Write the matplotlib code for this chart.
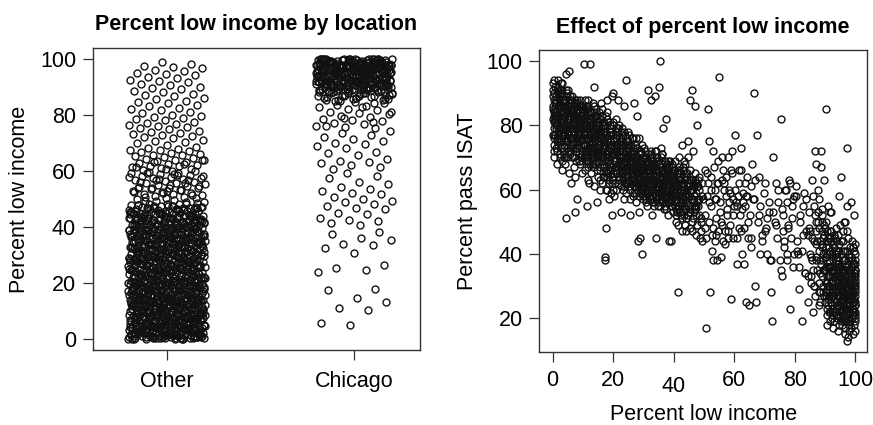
import matplotlib
matplotlib.use("Agg")
import matplotlib.pyplot as plt
import matplotlib.transforms as mtransforms
import numpy as np

plt.rcParams["font.family"] = ["Liberation Sans", "DejaVu Sans"]

# (percent low income, percent pass ISAT) per school, grouped by location
other_0_10 = [
    (0.2, 86), (0.5, 79), (0.1, 91), (0.8, 83), (0.3, 74), (0.6, 88), (0.0, 93), (0.4, 77), (0.9, 85), (0.7, 81),
    (1.2, 89), (1.5, 76), (1.1, 84), (1.8, 92), (1.3, 80), (1.6, 72), (1.0, 87), (1.4, 83), (1.9, 78), (1.7, 94),
    (2.1, 85), (2.4, 70), (2.2, 88), (2.8, 82), (2.5, 91), (2.0, 76), (2.7, 79), (2.3, 86), (2.9, 73), (2.6, 84),
    (3.1, 81), (3.4, 87), (3.2, 69), (3.8, 84), (3.5, 77), (3.0, 90), (3.7, 71), (3.3, 86), (3.9, 70), (3.6, 80),
    (4.1, 83), (4.4, 75), (4.2, 88), (4.8, 79), (4.5, 96), (4.0, 68), (4.7, 85), (4.3, 51), (4.9, 81), (4.6, 73),
    (5.1, 86), (5.4, 82), (5.2, 77), (5.8, 89), (5.5, 65), (5.0, 84), (5.7, 74), (5.3, 97), (5.9, 80), (5.6, 87),
    (6.1, 78), (6.4, 84), (6.2, 62), (6.8, 81), (6.5, 88), (6.0, 73), (6.7, 79), (6.3, 85), (6.9, 70), (6.6, 83),
    (7.1, 80), (7.4, 53), (7.2, 86), (7.8, 76), (7.5, 82), (7.0, 67), (7.7, 84), (7.3, 78), (7.9, 88), (7.6, 72),
    (8.1, 79), (8.4, 85), (8.2, 57), (8.8, 81), (8.5, 74), (8.0, 83), (8.7, 69), (8.3, 77), (8.9, 86), (8.6, 80),
    (9.1, 82), (9.4, 76), (9.2, 84), (9.8, 71), (9.5, 79), (9.0, 88), (9.7, 65), (9.3, 81), (9.9, 74), (9.6, 85),
    (0.3, 70), (0.6, 76), (1.4, 68), (2.2, 75), (3.1, 66), (0.9, 82), (1.7, 90), (2.6, 93), (3.8, 78), (4.3, 91),
    (5.2, 70), (6.1, 76), (7.3, 64), (8.4, 82), (9.2, 68), (0.1, 89), (0.5, 84), (1.1, 80), (1.9, 86), (2.4, 81),
]
other_10_20 = [
    (10.2, 81), (10.5, 99), (10.8, 74), (10.1, 84), (10.7, 77), (10.4, 70), (10.9, 86), (10.3, 79), (10.6, 66), (10.0, 82),
    (11.2, 55), (11.5, 78), (11.1, 83), (11.8, 72), (11.3, 80), (11.6, 69), (11.0, 85), (11.4, 76), (11.9, 81), (11.7, 63),
    (12.1, 79), (12.5, 99), (12.2, 74), (12.8, 82), (12.4, 68), (12.0, 77), (12.7, 84), (12.3, 71), (12.9, 80), (12.6, 65),
    (13.1, 76), (13.4, 82), (13.8, 92), (13.2, 70), (13.5, 78), (13.0, 73), (13.7, 84), (13.3, 67), (13.9, 79), (13.6, 61),
    (14.1, 75), (14.8, 56), (14.2, 80), (14.4, 71), (14.5, 83), (14.0, 68), (14.7, 77), (14.3, 73), (14.9, 64), (14.6, 81),
    (15.1, 72), (15.4, 78), (15.9, 87), (15.2, 69), (15.5, 82), (15.0, 75), (15.7, 66), (15.3, 80), (15.8, 71), (15.6, 60),
    (16.1, 77), (16.4, 70), (16.2, 83), (16.8, 73), (16.5, 67), (16.0, 79), (16.7, 75), (16.3, 62), (16.9, 81), (16.6, 68),
    (17.2, 38), (17.4, 39), (17.6, 48), (17.1, 74), (17.5, 71), (17.0, 78), (17.7, 66), (17.3, 80), (17.9, 69), (17.8, 84),
    (18.1, 72), (18.4, 76), (18.2, 65), (18.8, 79), (18.5, 70), (18.0, 82), (18.7, 63), (18.3, 74), (18.9, 68), (18.6, 57),
    (19.1, 75), (19.5, 89), (19.8, 90), (19.2, 71), (19.4, 67), (19.0, 78), (19.7, 62), (19.3, 73), (19.9, 81), (19.6, 52),
    (10.9, 72), (12.1, 62), (13.4, 87), (14.6, 76), (15.5, 63), (16.3, 85), (17.5, 60), (18.1, 88), (19.2, 59), (11.6, 88),
]
other_20_30 = [
    (20.2, 73), (20.5, 67), (20.8, 78), (20.1, 63), (20.7, 71), (20.4, 58), (20.9, 82), (20.3, 75), (20.6, 69), (20.0, 60),
    (21.2, 74), (21.5, 88), (21.1, 66), (21.8, 70), (21.3, 77), (21.6, 62), (21.0, 72), (21.4, 79), (21.9, 64), (21.7, 68),
    (22.1, 71), (22.5, 53), (22.2, 75), (22.8, 65), (22.4, 69), (22.0, 80), (22.7, 61), (22.3, 73), (22.9, 67), (22.6, 76),
    (23.1, 64), (23.5, 86), (23.2, 70), (23.8, 74), (23.4, 60), (23.0, 67), (23.7, 78), (23.3, 63), (23.9, 71), (23.6, 57),
    (24.2, 94), (24.5, 68), (24.1, 72), (24.8, 62), (24.4, 75), (24.0, 66), (24.7, 70), (24.3, 59), (24.9, 73), (24.6, 64),
    (25.1, 69), (25.5, 52), (25.2, 74), (25.8, 63), (25.4, 67), (25.0, 71), (25.7, 60), (25.3, 77), (25.9, 65), (25.6, 70),
    (26.1, 62), (26.8, 87), (26.2, 68), (26.4, 73), (26.5, 58), (26.0, 66), (26.7, 71), (26.3, 64), (26.9, 61), (26.6, 76),
    (27.1, 67), (27.8, 83), (27.2, 63), (27.4, 70), (27.5, 59), (27.0, 72), (27.7, 65), (27.3, 61), (27.9, 68), (27.6, 56),
    (28.3, 44), (28.1, 66), (28.5, 62), (28.8, 69), (28.4, 58), (28.0, 73), (28.7, 64), (28.2, 60), (28.9, 67), (28.6, 53),
    (29.0, 45), (29.5, 40), (29.2, 63), (29.8, 66), (29.4, 60), (29.1, 71), (29.7, 57), (29.3, 64), (29.9, 62), (29.6, 68),
]
other_30_40 = [
    (30.2, 65), (30.5, 59), (30.8, 70), (30.1, 62), (30.7, 56), (30.4, 67), (30.9, 61), (30.3, 73), (30.6, 58),
    (31.2, 64), (31.5, 91), (31.1, 68), (31.8, 60), (31.3, 55), (31.6, 71), (31.0, 63), (31.4, 66), (31.9, 58),
    (32.1, 62), (32.5, 88), (32.2, 67), (32.8, 57), (32.4, 70), (32.0, 64), (32.7, 52), (32.3, 61), (32.9, 66),
    (33.1, 59), (33.8, 89), (33.2, 65), (33.4, 62), (33.5, 68), (33.0, 56), (33.7, 72), (33.3, 60), (33.9, 64),
    (34.2, 45), (34.5, 63), (34.1, 58), (34.8, 69), (34.4, 61), (34.0, 66), (34.7, 55), (34.3, 72), (34.9, 60),
    (35.5, 100), (35.3, 92), (35.1, 62), (35.8, 57), (35.4, 67), (35.0, 64), (35.7, 70), (35.2, 59), (35.9, 73),
    (36.1, 61), (36.4, 79), (36.2, 56), (36.8, 65), (36.5, 62), (36.0, 68), (36.7, 58), (36.3, 71), (36.9, 54),
    (37.1, 63), (37.5, 82), (37.2, 60), (37.8, 66), (37.4, 57), (37.0, 69), (37.7, 62), (37.3, 55), (37.9, 64),
    (38.5, 44), (38.1, 58), (38.2, 63), (38.8, 61), (38.4, 67), (38.0, 56), (38.7, 64), (38.3, 60), (38.9, 57),
    (39.1, 44), (39.5, 62), (39.2, 58), (39.8, 65), (39.4, 55), (39.0, 63), (39.7, 60), (39.3, 67), (39.9, 53),
]
other_40_50 = [
    (40.2, 60), (40.5, 55), (40.8, 50), (40.1, 64), (40.7, 58), (40.4, 69), (40.9, 52), (40.3, 61),
    (41.5, 28), (41.2, 57), (41.8, 63), (41.1, 54), (41.6, 70), (41.0, 60), (41.4, 49), (41.9, 66),
    (42.1, 58), (42.6, 74), (42.2, 53), (42.8, 61), (42.4, 56), (42.0, 65), (42.7, 51),
    (43.1, 60), (43.5, 55), (43.2, 66), (43.8, 49), (43.4, 62), (43.0, 57), (43.7, 68), (43.3, 52),
    (44.1, 59), (44.7, 75), (44.2, 47), (44.8, 61), (44.4, 64), (44.0, 54), (44.6, 70),
    (45.3, 88), (45.1, 58), (45.5, 48), (45.8, 63), (45.4, 66), (45.0, 53), (45.7, 60),
    (46.2, 91), (46.1, 47), (46.5, 61), (46.8, 56), (46.4, 72), (46.0, 50), (46.7, 58),
    (47.1, 86), (47.8, 80), (47.2, 54), (47.5, 62), (47.4, 46), (47.0, 65), (47.7, 49),
    (48.1, 57), (48.5, 52), (48.2, 63), (48.8, 45), (48.4, 60), (48.0, 55),
    (49.1, 51), (49.5, 62), (49.2, 47), (49.8, 57), (49.4, 44),
]
other_0_16_more = [
    (0.4, 81), (0.7, 87), (1.3, 75), (1.6, 85), (2.1, 79), (2.7, 89), (3.3, 82), (3.6, 74), (4.1, 86), (4.6, 78),
    (5.3, 83), (5.6, 71), (6.2, 87), (6.7, 76), (7.1, 85), (7.6, 79), (8.2, 73), (8.6, 86), (9.1, 77), (9.7, 83),
    (10.2, 76), (10.8, 80), (11.3, 73), (11.8, 86), (12.4, 78), (12.9, 71), (13.3, 81), (13.9, 75), (14.4, 69), (14.9, 79),
    (15.3, 74), (15.8, 67), (0.2, 77), (0.8, 92), (1.2, 88), (1.5, 82), (2.3, 90), (2.9, 77), (3.2, 93), (3.7, 83),
    (4.4, 80), (4.9, 90), (5.1, 75), (5.7, 85), (6.4, 80), (6.8, 74), (7.3, 88), (7.7, 69), (8.3, 81), (8.9, 75),
    (9.3, 86), (9.6, 72), (10.4, 85), (10.7, 71), (11.4, 82), (11.7, 76), (12.3, 84), (12.6, 72), (13.2, 76), (13.7, 70),
    (14.2, 78), (14.7, 73), (15.2, 81), (15.7, 76), (0.6, 72), (1.0, 79), (1.8, 74), (2.5, 71), (3.4, 79), (4.2, 76),
    (4.8, 84), (5.5, 79), (6.3, 70), (7.1, 77), (7.9, 82), (8.5, 78), (9.4, 70), (10.1, 78), (10.9, 83), (11.5, 74),
    (12.2, 70), (12.8, 79), (13.6, 73), (14.1, 83), (14.9, 71), (15.6, 78), (0.3, 83), (1.6, 80), (2.8, 86), (3.9, 88),
    (5.0, 72), (6.0, 86), (6.9, 82), (8.0, 76), (9.0, 79), (9.9, 81), (11.0, 70), (12.0, 81), (13.0, 80), (14.0, 75),
]
other_16_48_more = [
    (16.2, 72), (16.7, 78), (17.2, 69), (17.8, 75), (18.3, 66), (18.8, 73), (19.3, 77), (19.8, 68), (20.3, 74), (20.8, 65),
    (21.3, 71), (21.8, 76), (22.3, 67), (22.8, 72), (23.3, 68), (23.8, 64), (24.3, 70), (24.8, 75), (25.3, 66), (25.8, 71),
    (26.3, 68), (26.8, 63), (27.3, 69), (27.8, 73), (28.3, 65), (28.8, 61), (29.3, 67), (29.8, 70), (30.3, 63), (30.8, 66),
    (31.3, 60), (31.8, 68), (32.3, 64), (32.8, 62), (33.3, 66), (33.8, 59), (34.3, 64), (34.8, 61), (35.3, 66), (35.8, 60),
    (36.3, 63), (36.8, 58), (37.3, 65), (37.8, 60), (38.3, 62), (38.8, 57), (39.3, 63), (39.8, 59), (40.3, 61), (40.8, 56),
    (41.3, 62), (41.8, 58), (42.3, 60), (42.8, 55), (43.3, 63), (43.8, 58), (44.3, 61), (44.8, 55), (45.3, 60), (45.8, 57),
    (46.3, 62), (46.8, 53), (47.3, 59), (47.8, 56), (16.5, 80), (17.0, 64), (17.5, 83), (18.0, 70), (18.5, 62), (19.0, 80),
    (19.5, 64), (20.0, 77), (20.5, 72), (21.0, 60), (21.5, 79), (22.0, 63), (22.5, 74), (23.0, 79), (23.5, 61), (24.0, 77),
    (24.5, 62), (25.0, 78), (25.5, 61), (26.0, 74), (26.5, 70), (27.0, 59), (27.5, 76), (28.0, 62), (28.5, 71), (29.0, 59),
    (29.5, 74), (30.0, 60), (30.5, 72), (31.0, 57), (31.5, 69), (32.0, 58), (32.5, 71), (33.0, 63), (33.5, 56), (34.0, 70),
    (34.5, 57), (35.0, 68), (35.5, 55), (36.0, 71), (36.5, 59), (37.0, 66), (37.5, 54), (38.0, 69), (38.5, 60), (39.0, 56),
    (39.5, 68), (40.0, 58), (40.5, 66), (41.0, 53), (41.5, 65), (42.0, 59), (42.5, 52), (43.0, 67), (43.5, 60), (44.0, 51),
    (44.5, 65), (45.0, 62), (45.5, 54), (46.0, 60), (46.5, 51), (47.0, 63), (47.5, 55), (48.0, 61), (48.5, 57), (16.9, 75),
    (18.6, 77), (20.6, 62), (22.6, 78), (24.6, 67), (26.6, 65), (28.6, 76), (30.6, 68), (32.6, 60), (34.6, 66), (36.6, 61),
    (38.6, 65), (40.6, 63), (42.6, 57), (44.6, 58), (46.6, 55), (17.3, 73), (21.1, 69), (25.1, 73), (29.1, 62), (33.1, 69),
]
other_0_48_dense = [
    (0.5, 90), (1.1, 73), (1.7, 86), (2.3, 79), (2.9, 91), (3.5, 84), (4.0, 77), (4.6, 89), (5.2, 80), (5.8, 72),
    (6.4, 89), (7.0, 81), (7.6, 75), (8.2, 87), (8.8, 78), (9.4, 83), (10.0, 74), (10.6, 88), (11.2, 79), (11.8, 67),
    (12.4, 82), (13.0, 75), (13.6, 86), (14.2, 70), (14.8, 77), (15.4, 84), (16.0, 72), (16.6, 64), (17.2, 79), (17.8, 71),
    (18.4, 81), (19.0, 66), (19.6, 74), (20.2, 69), (20.8, 76), (21.4, 65), (22.0, 72), (22.6, 68), (23.2, 75), (23.8, 62),
    (24.4, 71), (25.0, 64), (25.6, 69), (26.2, 76), (26.8, 66), (27.4, 62), (28.0, 69), (28.6, 65), (29.2, 72), (29.8, 58),
    (30.4, 64), (31.0, 69), (31.6, 62), (32.2, 57), (32.8, 67), (33.4, 63), (34.0, 60), (34.6, 70), (35.2, 56), (35.8, 64),
    (36.4, 60), (37.0, 67), (37.6, 58), (38.2, 63), (38.8, 69), (39.4, 57), (40.0, 62), (40.6, 59), (41.2, 65), (41.8, 55),
    (42.4, 63), (43.0, 59), (43.6, 57), (44.2, 65), (44.8, 52), (0.2, 82), (0.9, 77), (1.5, 91), (2.1, 83), (2.7, 75),
    (3.3, 88), (3.9, 81), (4.5, 70), (5.1, 91), (5.7, 83), (6.3, 76), (6.9, 87), (7.5, 73), (8.1, 84), (8.7, 71),
    (9.3, 79), (9.9, 86), (10.5, 77), (11.1, 71), (11.7, 84), (12.3, 75), (12.9, 68), (13.5, 83), (14.1, 79), (14.7, 66),
    (15.3, 78), (15.9, 70), (16.5, 76), (17.1, 67), (17.7, 77), (18.3, 69), (18.9, 75), (19.5, 71), (20.1, 80), (20.7, 67),
    (21.3, 74), (21.9, 70), (22.5, 65), (23.1, 72), (23.7, 69), (24.3, 66), (24.9, 73), (25.5, 68), (26.1, 63), (26.7, 70),
    (27.3, 74), (27.9, 64), (28.5, 68), (29.1, 66), (29.7, 63), (30.3, 70), (30.9, 60), (31.5, 66), (32.1, 63), (32.7, 70),
    (33.3, 58), (33.9, 66), (34.5, 62), (35.1, 68), (35.7, 59), (36.3, 66), (36.9, 62), (37.5, 60), (38.1, 66), (38.7, 59),
    (39.3, 61), (39.9, 64), (40.5, 57), (41.1, 62), (41.7, 67), (42.3, 56), (42.9, 62), (43.5, 64), (44.1, 56), (44.7, 62),
    (0.0, 85), (0.6, 94), (1.2, 83), (1.8, 77), (2.4, 87), (3.0, 80), (3.6, 72), (4.2, 85), (4.8, 75), (5.4, 88),
    (6.0, 79), (6.6, 73), (7.2, 83), (7.8, 86), (8.4, 76), (9.0, 82), (9.6, 69), (10.2, 80), (10.8, 72), (11.4, 85),
    (12.0, 73), (12.6, 80), (13.2, 72), (13.8, 78), (14.4, 85), (15.0, 70), (15.6, 74), (16.2, 81), (16.8, 70), (17.4, 76),
    (18.0, 64), (18.6, 72), (19.2, 78), (19.8, 65), (20.4, 71), (21.0, 76), (21.6, 67), (22.2, 70), (22.8, 74), (23.4, 66),
    (24.0, 69), (24.6, 74), (25.2, 63), (25.8, 67), (26.4, 71), (27.0, 65), (27.6, 70), (28.2, 63), (28.8, 72), (29.4, 61),
    (30.0, 67), (30.6, 63), (31.2, 59), (31.8, 65), (32.4, 68), (33.0, 61), (33.6, 67), (34.2, 64), (34.8, 58), (35.4, 63),
    (36.0, 57), (36.6, 65), (37.2, 63), (37.8, 68), (38.4, 56), (39.0, 60), (39.6, 66), (40.2, 63), (40.8, 58), (41.4, 61),
    (42.0, 63), (42.6, 58), (43.2, 61), (43.8, 54), (44.4, 60), (45.0, 58), (45.6, 63), (46.2, 57), (46.8, 61), (47.4, 52),
]
other_50_100 = [
    (50.6, 17), (50.2, 48), (50.8, 45), (51.2, 85), (51.5, 62), (51.8, 75), (52.1, 28), (52.4, 55), (52.7, 46), (53.0, 38),
    (53.3, 67), (53.6, 44), (53.9, 57), (54.2, 38), (54.5, 62), (54.8, 47), (55.1, 95), (55.4, 53), (55.7, 39), (56.0, 70),
    (56.3, 44), (56.6, 60), (56.9, 47), (57.2, 64), (57.5, 52), (57.8, 45), (58.1, 70), (58.4, 56), (58.7, 49), (59.0, 26),
    (59.3, 65), (59.6, 57), (59.9, 55), (50.4, 66), (52.9, 72), (54.1, 51), (55.9, 63), (57.1, 43), (58.5, 59), (59.2, 72),
    (50.9, 58), (51.6, 50), (52.2, 64), (52.8, 41), (53.5, 60), (54.0, 46), (54.7, 69), (55.3, 56), (56.1, 49), (56.8, 62),
    (57.4, 58), (58.0, 47), (58.8, 66), (59.5, 52), (60.3, 60), (61.0, 45), (61.7, 62), (62.6, 54), (63.4, 48), (64.1, 58),
    (60.2, 77), (60.5, 56), (60.8, 37), (61.2, 58), (61.5, 66), (61.8, 52), (62.1, 73), (62.4, 47), (62.7, 40), (63.0, 59),
    (63.3, 37), (63.6, 55), (63.9, 25), (64.2, 64), (64.5, 45), (64.8, 24), (65.1, 52), (65.4, 61), (65.7, 42), (66.0, 68),
    (66.3, 57), (66.6, 90), (66.9, 30), (67.2, 25), (67.5, 77), (67.8, 50), (68.1, 64), (68.4, 40), (68.7, 55), (69.3, 46),
    (70.2, 62), (70.6, 48), (71.0, 40), (71.4, 53), (71.8, 38), (72.2, 28), (72.6, 19), (73.0, 70), (73.4, 50), (73.8, 62),
    (74.2, 45), (74.6, 56), (75.0, 38), (75.4, 82), (75.8, 33), (76.2, 52), (76.6, 44), (77.0, 60), (77.4, 40), (77.8, 48),
    (78.2, 63), (78.6, 23), (79.0, 55), (79.4, 36), (79.8, 58),
    (80.3, 61), (80.8, 41), (81.3, 29), (81.8, 52), (82.3, 19), (82.8, 46), (83.3, 34), (83.8, 57), (84.3, 25), (84.8, 48),
    (85.3, 39), (85.8, 63), (86.3, 30), (86.8, 72), (87.3, 44), (87.8, 53), (88.3, 28), (88.8, 67), (89.3, 38), (89.8, 49),
    (90.3, 85), (90.8, 47), (91.3, 36), (91.8, 53), (92.3, 28), (92.8, 44), (93.3, 22), (93.8, 40), (94.3, 31), (94.8, 58),
    (95.3, 64), (95.8, 26), (96.3, 35), (96.8, 50), (97.3, 73), (97.8, 29), (98.5, 56), (99.2, 42),
]
chicago_85_100 = [
    (95.2, 25), (95.6, 31), (95.9, 22), (96.3, 28), (96.7, 35), (97.0, 19), (97.4, 27), (97.8, 33), (98.1, 24), (98.5, 30),
    (98.9, 21), (99.2, 37), (99.6, 26), (99.9, 32), (95.4, 40), (95.8, 18), (96.1, 44), (96.5, 23), (96.9, 29), (97.2, 13),
    (97.6, 38), (98.0, 16), (98.3, 34), (98.7, 27), (99.0, 20), (99.4, 42), (99.8, 24), (95.1, 36), (95.5, 29), (96.0, 47),
    (96.4, 21), (96.8, 32), (97.1, 26), (97.5, 14), (97.9, 39), (98.2, 22), (98.6, 31), (99.1, 28), (99.5, 18), (99.9, 35),
    (95.3, 33), (95.7, 26), (96.2, 38), (96.6, 17), (97.0, 30), (97.3, 23), (97.7, 45), (98.4, 19), (98.8, 36), (99.3, 25),
    (99.7, 30), (100.0, 22), (100.0, 34), (100.0, 27), (100.0, 40), (100.0, 16), (99.6, 52), (98.9, 44), (97.4, 55), (96.3, 50),
    (95.9, 41), (99.0, 33), (98.0, 28), (97.1, 36), (96.0, 25), (99.4, 21), (98.6, 17), (97.8, 24), (96.7, 20), (95.5, 23),
    (90.2, 31), (90.6, 44), (90.9, 26), (91.3, 38), (91.7, 22), (92.0, 47), (92.4, 29), (92.8, 35), (93.1, 19), (93.5, 41),
    (93.9, 27), (94.2, 33), (94.6, 24), (94.9, 49), (90.4, 36), (90.8, 21), (91.1, 45), (91.5, 30), (91.9, 25), (92.2, 40),
    (92.6, 17), (93.0, 34), (93.3, 28), (93.7, 44), (94.1, 20), (94.4, 37), (94.8, 30), (90.1, 48), (90.5, 27), (91.0, 33),
    (91.4, 42), (91.8, 19), (92.1, 36), (92.5, 24), (92.9, 46), (93.2, 31), (93.6, 23), (94.0, 39), (94.3, 16), (94.7, 43),
    (90.3, 50), (90.7, 40), (91.2, 28), (91.6, 47), (92.3, 22), (92.7, 38), (93.4, 36), (93.8, 25), (94.5, 34), (94.9, 21),
    (91.9, 53), (92.8, 43), (93.5, 48), (94.2, 46), (90.9, 55),
    (85.2, 47), (85.6, 38), (85.9, 58), (86.3, 30), (86.7, 52), (87.0, 43), (87.4, 35), (87.8, 60), (88.1, 48), (88.5, 25),
    (88.9, 54), (89.2, 40), (89.6, 63), (85.4, 33), (85.8, 45), (86.1, 22), (86.5, 55), (86.9, 39), (87.2, 68), (87.6, 50),
    (88.0, 31), (88.3, 44), (88.7, 37), (89.0, 52), (89.4, 28), (89.8, 46), (85.1, 40), (86.0, 35), (87.1, 47), (88.2, 57),
    (89.1, 43), (89.5, 35), (86.8, 27), (87.9, 41), (88.6, 72),
]
chicago_88_100_more = [
    (88.4, 38), (89.3, 30), (90.2, 42), (91.0, 24), (91.8, 36), (92.6, 29), (93.4, 45), (94.2, 27), (95.0, 33), (95.8, 20),
    (96.6, 41), (97.4, 31), (98.2, 26), (99.0, 38), (99.8, 29), (88.9, 47), (89.7, 35), (90.6, 23), (91.4, 40), (92.2, 33),
    (93.0, 26), (93.8, 38), (94.6, 18), (95.4, 44), (96.2, 32), (97.0, 24), (97.8, 40), (98.6, 33), (99.4, 15), (100.0, 31),
    (88.1, 28), (89.0, 50), (89.9, 39), (90.8, 31), (91.6, 45), (92.4, 20), (93.2, 40), (94.0, 31), (94.8, 27), (95.6, 37),
    (96.4, 26), (97.2, 47), (98.0, 35), (98.8, 23), (99.6, 41), (100.0, 19), (90.0, 35), (91.2, 27), (92.0, 44), (93.6, 33),
    (94.4, 41), (95.2, 19), (96.0, 30), (96.8, 38), (97.6, 20), (98.4, 42), (99.2, 31), (100.0, 25), (100.0, 37), (99.9, 43),
    (95.1, 27), (95.9, 34), (96.5, 15), (97.3, 35), (98.1, 18), (98.9, 29), (99.7, 22), (94.1, 24), (93.1, 22), (92.1, 31),
    (91.1, 36), (90.1, 25), (89.1, 33), (97.9, 31), (96.9, 23), (95.7, 29), (98.7, 39), (99.5, 34), (100.0, 28), (97.5, 28),
]
chicago_84_100_dense = [
    (90.4, 28), (90.9, 36), (91.5, 22), (92.0, 31), (92.6, 39), (93.1, 26), (93.7, 30), (94.2, 21), (94.8, 36), (95.3, 28),
    (95.9, 38), (96.4, 24), (97.0, 33), (97.5, 19), (98.1, 29), (98.6, 36), (99.2, 23), (99.7, 33), (100.0, 20), (100.0, 30),
    (90.2, 39), (90.8, 18), (91.3, 33), (91.9, 27), (92.4, 35), (93.0, 42), (93.5, 21), (94.1, 34), (94.6, 28), (95.2, 22),
    (95.7, 32), (96.3, 19), (96.8, 27), (97.4, 41), (97.9, 22), (98.5, 34), (99.0, 26), (99.6, 37), (100.0, 24), (100.0, 35),
    (88.5, 34), (89.0, 42), (89.6, 27), (87.2, 38), (86.4, 44), (85.5, 31), (84.3, 46), (86.9, 50), (88.0, 24), (89.4, 45),
    (90.6, 33), (91.7, 41), (92.8, 27), (93.9, 37), (94.9, 25), (96.0, 35), (97.1, 22), (98.3, 31), (99.4, 28), (99.9, 21),
    (91.0, 30), (92.2, 23), (93.3, 33), (94.4, 29), (95.5, 35), (96.6, 31), (97.7, 26), (98.8, 25), (99.9, 38), (95.0, 30),
    (96.1, 27), (97.2, 30), (98.4, 28), (99.3, 31), (100.0, 33), (94.7, 32), (93.8, 29), (92.9, 34), (91.8, 33), (90.7, 29),
]
chicago_0_85 = [
    (75.4, 35), (75.9, 54), (76.4, 42), (76.9, 60), (77.4, 38), (77.9, 49), (78.4, 62), (78.9, 45), (79.4, 57), (79.9, 40),
    (80.4, 58), (80.9, 44), (81.4, 36), (81.9, 50), (82.4, 41), (82.9, 55), (83.4, 34), (83.9, 47), (84.4, 33), (84.9, 53),
    (76.1, 47), (77.6, 56), (79.1, 51), (81.1, 40), (83.1, 59),
    (60.8, 55), (61.5, 48), (62.3, 66), (63.0, 56), (63.5, 62), (63.8, 58), (64.6, 50), (65.7, 45), (66.4, 57), (67.0, 63),
    (68.2, 52), (69.1, 44), (69.8, 59), (70.3, 47), (71.0, 51), (71.6, 56), (72.3, 38), (73.0, 53), (73.8, 49), (74.5, 60),
    (40.9, 54), (41.6, 66), (42.3, 60), (42.8, 47), (43.5, 69), (44.8, 58), (45.3, 53), (46.4, 62), (47.0, 55), (47.6, 61),
    (48.3, 64), (48.9, 50), (49.5, 58), (50.2, 52), (51.0, 65), (51.8, 56), (52.4, 60), (53.0, 48), (53.8, 57), (54.4, 62),
    (55.5, 50), (56.2, 66), (57.6, 54), (58.3, 60), (59.5, 45),
    (24.1, 62), (24.8, 70), (25.5, 57), (26.5, 66), (31.0, 60), (32.5, 72), (33.6, 55), (34.1, 68), (35.5, 62), (36.3, 58),
    (37.5, 64), (38.2, 52),
    (5.2, 82), (5.8, 76), (10.5, 74), (11.2, 69), (13.5, 78), (14.8, 71), (17.5, 65), (18.1, 60),
]

locations = ["Other", "Chicago"]

other = np.array(other_0_10 + other_10_20 + other_20_30 + other_30_40 + other_40_50
                 + other_0_16_more + other_16_48_more + other_0_48_dense + other_50_100)
chicago = np.array(chicago_85_100 + chicago_88_100_more + chicago_84_100_dense + chicago_0_85)
groups = [other, chicago]


def strip_offsets(n, width=0.205):
    # evenly spread horizontal offsets for the strip chart
    return ((np.arange(n) * 0.6180339887) % 1.0 - 0.5) * 2 * width


MK = dict(marker="o", ms=5.0, mfc="none", mec="#111111", mew=1.0, ls="none")
FS = 15.5

fig = plt.figure(figsize=(8.73, 4.25), dpi=100)
ax1 = fig.add_axes([0.1062, 0.1753, 0.3752, 0.7111])
ax2 = fig.add_axes([0.6178, 0.1711, 0.3753, 0.7113])

# --- left: percent low income by location (jittered strip chart) ---
for i, g in enumerate(groups, start=1):
    ax1.plot(i + strip_offsets(len(g)), g[:, 0], **MK)
ax1.set_xlim(0.605, 2.354)
ax1.set_ylim(-4, 104)
ax1.set_xticks([1, 2])
ax1.set_xticklabels(locations)
ax1.set_yticks(np.arange(0, 101, 20))
ax1.tick_params(axis="x", length=0, pad=8)
ax1.set_ylabel("Percent low income", fontsize=FS, labelpad=7)
ax1.set_title("Percent low income by location", fontsize=15.5, fontweight="bold", pad=13)

# --- right: pass rate against percent low income ---
both = np.vstack(groups)
ax2.plot(both[:, 0], both[:, 1], **MK)
ax2.set_xlim(-4.4, 103.9)
ax2.set_ylim(9.4, 103.4)
ax2.set_xticks(np.arange(0, 101, 20))
ax2.set_yticks(np.arange(20, 101, 20))
ax2.tick_params(axis="x", pad=6)
ax2.set_xlabel("Percent low income", fontsize=FS, labelpad=5)
ax2.set_ylabel("Percent pass ISAT", fontsize=FS, labelpad=6)
ax2.set_title("Effect of percent low income", fontsize=15.5, fontweight="bold", pad=12)

for ax in (ax1, ax2):
    ax.tick_params(labelsize=FS, length=7, width=0.9, color="#333333", direction="out")
    ax.tick_params(axis="y", pad=5)
    for sp in ax.spines.values():
        sp.set_linewidth(1.0)
        sp.set_color("#333333")

# the "40" label sits a little lower than its neighbours
fig.canvas.draw()
lab40 = ax2.get_xticklabels()[2]
lab40.set_transform(lab40.get_transform() + mtransforms.ScaledTranslation(0, -0.06, fig.dpi_scale_trans))

fig.savefig("out.png", dpi=100)
